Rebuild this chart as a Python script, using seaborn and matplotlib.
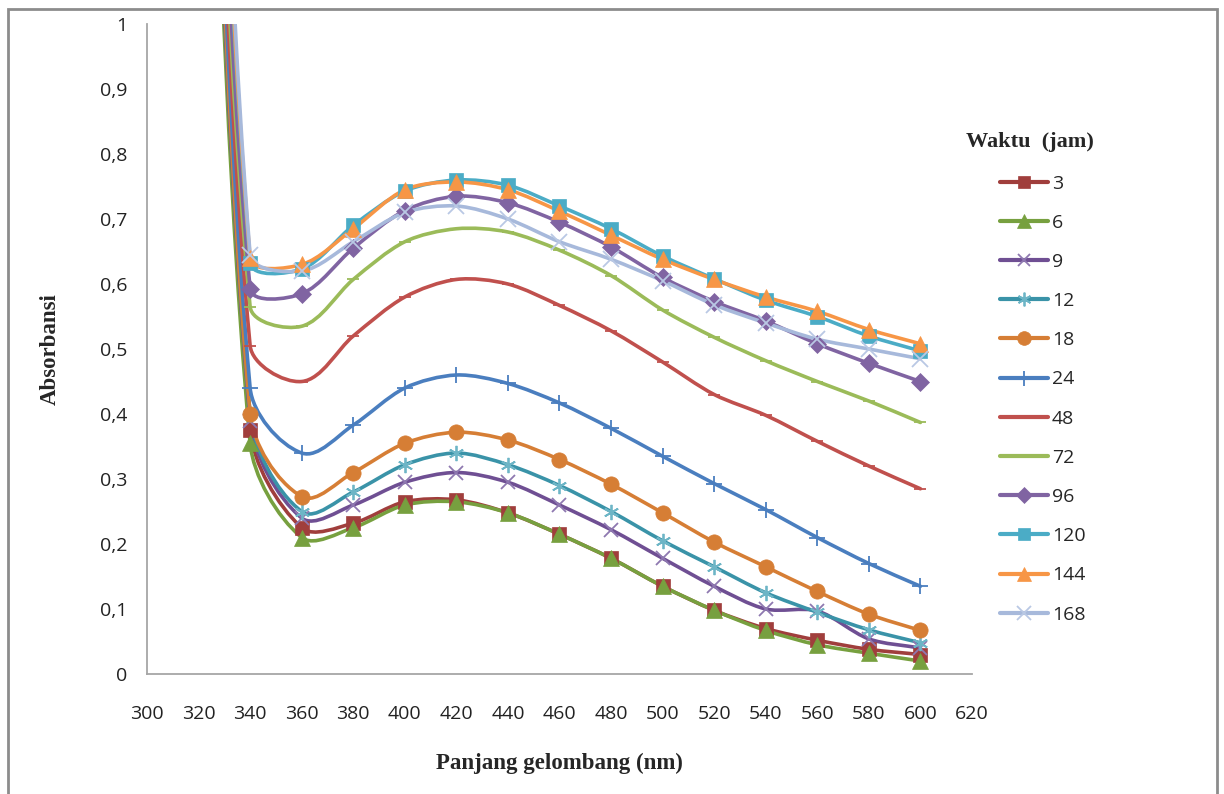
import matplotlib
matplotlib.use("Agg")
import matplotlib.pyplot as plt
import numpy as np
import seaborn as sns
from matplotlib.path import Path
from matplotlib.patches import PathPatch, Rectangle
from matplotlib.lines import Line2D
from matplotlib.ticker import FuncFormatter

# -------------------------
# data
# -------------------------
wavelength = [320, 340, 360, 380, 400, 420, 440, 460, 480, 500, 520, 540, 560, 580, 600]

jam_3 = [2.00, 0.375, 0.225, 0.232, 0.265, 0.268, 0.248, 0.215, 0.178, 0.135, 0.098, 0.070, 0.052, 0.038, 0.030]
jam_6 = [1.95, 0.355, 0.210, 0.225, 0.260, 0.265, 0.248, 0.215, 0.178, 0.135, 0.098, 0.067, 0.045, 0.032, 0.020]
jam_9 = [2.00, 0.390, 0.240, 0.260, 0.295, 0.310, 0.295, 0.260, 0.222, 0.178, 0.135, 0.100, 0.097, 0.054, 0.040]
jam_12 = [2.05, 0.400, 0.250, 0.280, 0.322, 0.340, 0.322, 0.290, 0.250, 0.205, 0.165, 0.125, 0.095, 0.068, 0.048]
jam_18 = [2.05, 0.400, 0.273, 0.310, 0.355, 0.372, 0.360, 0.330, 0.292, 0.248, 0.203, 0.165, 0.127, 0.092, 0.067]
jam_24 = [2.10, 0.440, 0.340, 0.383, 0.440, 0.460, 0.447, 0.417, 0.378, 0.335, 0.293, 0.253, 0.210, 0.170, 0.135]
jam_48 = [2.15, 0.505, 0.450, 0.520, 0.580, 0.607, 0.600, 0.567, 0.528, 0.480, 0.430, 0.398, 0.358, 0.320, 0.285]
jam_72 = [2.20, 0.565, 0.535, 0.607, 0.665, 0.685, 0.680, 0.652, 0.613, 0.560, 0.518, 0.482, 0.450, 0.420, 0.387]
jam_96 = [2.30, 0.593, 0.585, 0.655, 0.713, 0.735, 0.725, 0.695, 0.657, 0.610, 0.573, 0.543, 0.508, 0.478, 0.450]
jam_120 = [2.45, 0.633, 0.623, 0.690, 0.743, 0.760, 0.752, 0.720, 0.685, 0.643, 0.608, 0.575, 0.550, 0.520, 0.497]
jam_144 = [2.50, 0.640, 0.630, 0.685, 0.745, 0.757, 0.745, 0.712, 0.675, 0.638, 0.607, 0.580, 0.558, 0.530, 0.508]
jam_168 = [2.60, 0.645, 0.620, 0.665, 0.710, 0.720, 0.700, 0.665, 0.638, 0.605, 0.568, 0.540, 0.515, 0.500, 0.485]

labels = ["3", "6", "9", "12", "18", "24", "48", "72", "96", "120", "144", "168"]
series = [jam_3, jam_6, jam_9, jam_12, jam_18, jam_24, jam_48, jam_72, jam_96, jam_120, jam_144, jam_168]

colors = ["#A03E3C", "#77A03F", "#6F4F93", "#3A93A8", "#D67E35", "#4A7EBF",
          "#C0504D", "#9BBB59", "#8064A2", "#4BACC6", "#F79646", "#A7B9DB"]
marker_edge = ["#A03E3C", "#77A03F", "#8E78B0", "#6DB5C6", "#D67E35", "#4A7EBF",
               "#C0504D", "#9BBB59", "#8064A2", "#4BACC6", "#F79646", "#B9C8E4"]
markers = ["s", "^", "x", (6, 2, 0), "o", "+", "_", "_", "D", "s", "^", "x"]
msizes = [10, 11, 10, 11, 11, 12, 8, 8, 9, 10, 11, 11]

# pixel scale of the axes, so the smoothing behaves like in screen space
SX = 825 / 320.0
SY = 650 / 1.0


def smooth_path(xs, ys, k=0.3):
    # smoothed line: cubic Bezier, tangent along neighbours, handle length
    # proportional to the segment length (keeps steep parts from overshooting)
    pts = np.column_stack([np.asarray(xs) * SX, np.asarray(ys) * SY]).astype(float)
    n = len(pts)
    tang = []
    for i in range(n):
        a = pts[max(i - 1, 0)]
        b = pts[min(i + 1, n - 1)]
        d = b - a
        tang.append(d / np.hypot(*d))
    verts = [pts[0]]
    codes = [Path.MOVETO]
    for i in range(n - 1):
        L = np.hypot(*(pts[i + 1] - pts[i]))
        verts += [pts[i] + tang[i] * L * k, pts[i + 1] - tang[i + 1] * L * k, pts[i + 1]]
        codes += [Path.CURVE4] * 3
    verts = np.array(verts) / [SX, SY]
    return Path(verts, codes)


sns.set_style("white")
plt.rcParams["font.family"] = ["Open Sans", "DejaVu Sans"]

fig = plt.figure(figsize=(12.24, 7.94), dpi=100)
ax = fig.add_axes([0.1201, 0.1511, 0.674, 0.8187])

handles = []
for vals, lab, col, mec, mk, ms in zip(series, labels, colors, marker_edge, markers, msizes):
    ax.add_patch(PathPatch(smooth_path(wavelength, vals), facecolor="none",
                           edgecolor=col, lw=2.6, capstyle="round", zorder=2))
    thin = mk in ("x", "+", (6, 2, 0), "_")
    sns.lineplot(x=wavelength, y=vals, ax=ax, color=col, linestyle="",
                 marker=mk, markersize=ms, markeredgewidth=1.3 if thin else 0.5,
                 markeredgecolor=mec, alpha=1, zorder=3, legend=False)
    handles.append(Line2D([0], [0], color=col, lw=3, marker=mk,
                          markersize=ms * 0.9, markeredgewidth=1.3 if thin else 0.5,
                          markeredgecolor=mec, label=lab))

ax.set_xlim(300, 620)
ax.set_ylim(0, 1)
ax.set_xticks(np.arange(300, 621, 20))
ax.set_yticks(np.arange(0, 1.01, 0.1))
ax.yaxis.set_major_formatter(FuncFormatter(lambda v, p: f"{v:.1f}".replace(".", ",").replace(",0", "")))

for s in ["top", "right"]:
    ax.spines[s].set_visible(False)
for s in ["left", "bottom"]:
    ax.spines[s].set_color("#A6A6A6")
    ax.spines[s].set_linewidth(1.3)
ax.tick_params(axis="both", direction="out", length=6, width=1.2, color="#A6A6A6",
               labelsize=14, labelcolor="#222222", pad=8)
ax.tick_params(axis="x", pad=16)

ax.set_xlabel("Panjang gelombang (nm)", family="Liberation Serif", fontweight="bold",
              fontsize=16.5, labelpad=22)
ax.set_ylabel("Absorbansi", family="Liberation Serif", fontweight="bold",
              fontsize=16.5, labelpad=28)

fig.text(0.8415, 0.821, "Waktu  (jam)", family="Liberation Serif", fontweight="bold",
         fontsize=16, ha="center", va="center")
leg = fig.legend(handles=handles, loc="upper left", bbox_to_anchor=(0.811, 0.79),
                 frameon=False, fontsize=14, handlelength=2.45, handletextpad=0.2,
                 labelspacing=1.09, borderaxespad=0)

# chart area border
fig.patches.append(Rectangle((8 / 1224, -0.02), 1209 / 1224, 1.02 - 9 / 794,
                             transform=fig.transFigure, fill=False,
                             edgecolor="#8C8C8C", lw=2))

fig.savefig("out.png", dpi=100)
